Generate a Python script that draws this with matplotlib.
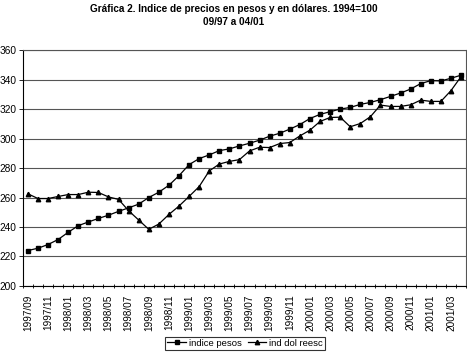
import numpy as np
import matplotlib
matplotlib.use("Agg")
import matplotlib.pyplot as plt

plt.rcParams['font.family'] = ['Liberation Sans', 'DejaVu Sans']

# months 1997/09 .. 2001/04
months = []
y, m = 1997, 9
for k in range(44):
    months.append("%d/%02d" % (y, m))
    m += 1
    if m > 12:
        m = 1
        y += 1

indice_pesos = [224.0, 225.6, 228.1, 231.5, 236.4, 240.9, 243.4, 245.8, 248.0, 250.6,
                253.0, 255.5, 260.0, 263.6, 268.3, 274.8, 282.3, 286.4, 288.9, 291.8,
                293.0, 295.0, 296.8, 298.9, 301.6, 303.6, 306.4, 309.5, 313.6, 316.4,
                318.2, 320.0, 321.1, 323.2, 324.5, 326.4, 328.6, 330.9, 333.6, 337.3,
                339.3, 339.1, 340.9, 343.0]
ind_dol_reesc = [262.5, 259.3, 259.3, 260.7, 262.0, 262.0, 263.6, 263.4, 260.4, 258.7,
                 251.0, 244.7, 238.4, 242.0, 248.5, 254.2, 260.7, 267.4, 278.0, 282.7,
                 284.5, 285.7, 291.6, 294.1, 293.9, 296.6, 297.3, 301.8, 305.7, 311.6,
                 314.3, 314.5, 308.0, 310.2, 314.8, 322.7, 321.8, 321.8, 322.9, 326.1,
                 325.2, 325.2, 332.5, 342.0]

title = "Gráfica 2. Indice de precios en pesos y en dólares. 1994=100\n09/97 a 04/01"

fig = plt.figure(figsize=(4.67, 3.53), dpi=100)
ax = fig.add_axes([0.049, 0.19, 0.949, 0.668])
fig.suptitle(title, fontsize=7.2, fontweight='bold', y=0.99, linespacing=1.45)

x = np.arange(len(months))
ax.plot(x, indice_pesos, color='black', lw=0.9, marker='s', ms=3.2, label='indice pesos')
ax.plot(x, ind_dol_reesc, color='black', lw=0.9, marker='^', ms=3.2, label='ind dol reesc')

ax.set_xlim(-0.5, len(months) - 0.5)
ax.set_ylim(200, 360)
ax.set_yticks(range(200, 361, 20))
ax.yaxis.grid(True, color='#555555', lw=0.8)
ax.set_axisbelow(True)
ax.tick_params(axis='y', labelsize=7.3, length=3, width=0.6, pad=1.5)

ax.set_xticks(x[::2])
ax.set_xticklabels(months[::2], rotation=90, fontsize=7.2)
ax.set_xticks(np.arange(-0.5, len(months), 1), minor=True)
ax.tick_params(axis='x', which='major', length=0, pad=6)
ax.tick_params(axis='x', which='minor', length=3, width=0.6, direction='inout')

for s in ax.spines.values():
    s.set_color('#555555')
    s.set_linewidth(0.8)
ax.spines['left'].set_color('black')
ax.spines['bottom'].set_color('black')

leg = fig.legend(loc='lower center', bbox_to_anchor=(0.525, -0.004), ncol=2, fontsize=6.8,
                 frameon=True, fancybox=False, edgecolor='black', handlelength=2,
                 handletextpad=0.3, columnspacing=0.6, borderpad=0.2)
leg.get_frame().set_linewidth(0.8)

fig.savefig("out.png", dpi=100)
